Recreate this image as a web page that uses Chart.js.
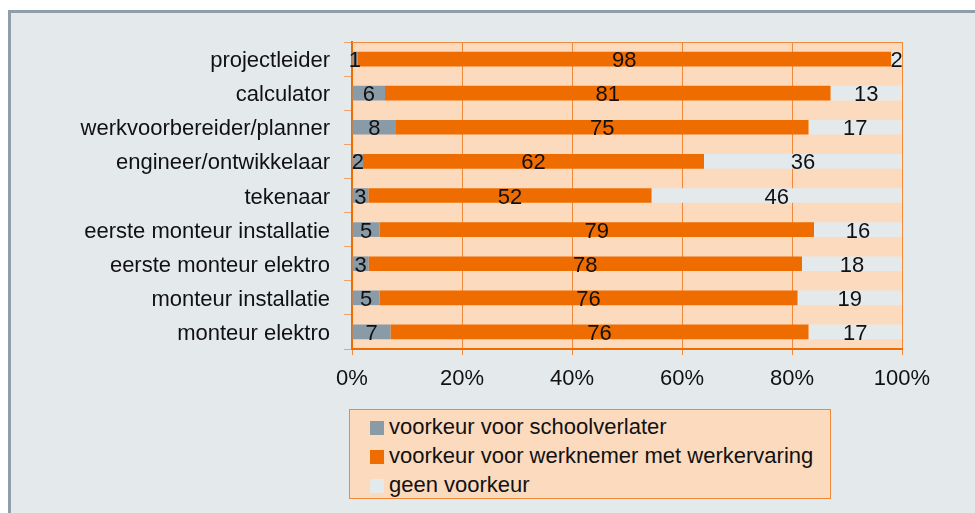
<!DOCTYPE html>
<html>
<head>
<meta charset="utf-8">
<script src="https://cdn.jsdelivr.net/npm/chart.js@4.4.1/dist/chart.umd.min.js"></script>
<style>
  html, body { margin: 0; padding: 0; background: #fff; }
  #frame {
    position: absolute; left: 8px; top: 10px; width: 967px; height: 503px;
    background: #e4e9ec; border-left: 3px solid #8f9eaa; border-top: 3px solid #8f9eaa;
    box-sizing: border-box;
  }
  #wrap { position: absolute; left: 0; top: 0; width: 975px; height: 513px; }
  #legend {
    position: absolute; left: 349px; top: 409px; width: 482px; height: 90px;
    background: #fcdabe; border: 1px solid #f08a3a; box-sizing: border-box;
    font-family: "Liberation Sans", Arial, sans-serif; font-size: 22px; color: #111;
  }
  .item { position: absolute; left: 20px; height: 24px; line-height: 24px; white-space: nowrap; }
  .item span { display: inline-block; width: 14px; height: 14px; margin-right: 5px; vertical-align: -1px; }
</style>
</head>
<body>
<div id="frame"></div>
<div id="wrap"><canvas id="chart" width="975" height="513"></canvas></div>
<div id="legend">
  <div class="item" style="top:5px"><span style="background:#8a9ba8"></span>voorkeur voor schoolverlater</div>
  <div class="item" style="top:34px"><span style="background:#ef6c00"></span>voorkeur voor werknemer met werkervaring</div>
  <div class="item" style="top:63px"><span style="background:#e4e9ec"></span>geen voorkeur</div>
</div>
<script>
// data
const functies = ['projectleider', 'calculator', 'werkvoorbereider/planner', 'engineer/ontwikkelaar',
  'tekenaar', 'eerste monteur installatie', 'eerste monteur elektro', 'monteur installatie', 'monteur elektro'];
const schoolverlater = [1, 6, 8, 2, 3, 5, 3, 5, 7];
const werkervaring   = [98, 81, 75, 62, 52, 79, 78, 76, 76];
const geenVoorkeur   = [2, 13, 17, 36, 46, 16, 18, 19, 17];
const xTicks = [0, 20, 40, 60, 80, 100];

const ORANJE = '#ef6c00';
const PERZIK = '#fcdabe';
const LIJN = '#f08a3a';
const FONT = '"Liberation Sans", Arial, sans-serif';

// 100% gestapeld: elke rij naar procenten
const totalen = functies.map((f, i) => schoolverlater[i] + werkervaring[i] + geenVoorkeur[i]);
const pct = arr => arr.map((v, i) => v / totalen[i] * 100);
const ruw = [schoolverlater, werkervaring, geenVoorkeur];

const achtergrond = {
  id: 'achtergrond',
  beforeDraw(chart) {
    const { ctx, chartArea: a } = chart;
    ctx.save();
    ctx.fillStyle = PERZIK;
    ctx.fillRect(a.left, a.top, a.right - a.left, a.bottom - a.top);
    ctx.restore();
  },
  beforeDatasetsDraw(chart) {
    const { ctx, chartArea: a } = chart;
    ctx.save();
    ctx.strokeStyle = LIJN;
    ctx.lineWidth = 1;
    ctx.beginPath();
    ctx.moveTo(a.left, a.top + 0.5);
    ctx.lineTo(a.right, a.top + 0.5);
    ctx.stroke();
    ctx.restore();
  }
};

const waardeLabels = {
  id: 'waardeLabels',
  afterDatasetsDraw(chart) {
    const ctx = chart.ctx;
    ctx.save();
    ctx.font = '22px ' + FONT;
    ctx.fillStyle = '#111';
    ctx.textAlign = 'center';
    ctx.textBaseline = 'middle';
    chart.data.datasets.forEach((ds, i) => {
      chart.getDatasetMeta(i).data.forEach((bar, j) => {
        const p = bar.getProps(['x', 'y', 'base'], true);
        ctx.fillText(String(ruw[i][j]), (p.x + p.base) / 2, p.y + 2);
      });
    });
    ctx.restore();
  }
};

new Chart(document.getElementById('chart'), {
  type: 'bar',
  data: {
    labels: functies,
    datasets: [
      { label: 'voorkeur voor schoolverlater', data: pct(schoolverlater), backgroundColor: '#8a9ba8' },
      { label: 'voorkeur voor werknemer met werkervaring', data: pct(werkervaring), backgroundColor: ORANJE },
      { label: 'geen voorkeur', data: pct(geenVoorkeur), backgroundColor: '#e4e9ec' }
    ]
  },
  options: {
    indexAxis: 'y',
    responsive: false,
    animation: false,
    layout: { padding: { left: 0, top: 42, right: 73, bottom: 0 } },
    datasets: { bar: { barPercentage: 0.43, categoryPercentage: 1 } },
    plugins: { legend: { display: false }, tooltip: { enabled: false } },
    scales: {
      x: {
        stacked: true, min: 0, max: 100,
        afterFit: s => { s.height = 164; },
        afterBuildTicks: s => { s.ticks = xTicks.map(v => ({ value: v })); },
        grid: { color: LIJN, lineWidth: 1, tickLength: 6, tickColor: LIJN },
        border: { color: ORANJE, width: 2 },
        ticks: { padding: 11, color: '#111', font: { family: FONT, size: 22 },
                 callback: v => v + '%' }
      },
      y: {
        stacked: true,
        afterFit: s => { s.width = 352; },
        grid: { drawOnChartArea: false, tickLength: 8, tickColor: '#f4a06a', offset: true },
        border: { color: ORANJE, width: 2 },
        ticks: { padding: 14, labelOffset: 2, color: '#111', font: { family: FONT, size: 22 } }
      }
    }
  },
  plugins: [achtergrond, waardeLabels]
});
</script>
</body>
</html>
